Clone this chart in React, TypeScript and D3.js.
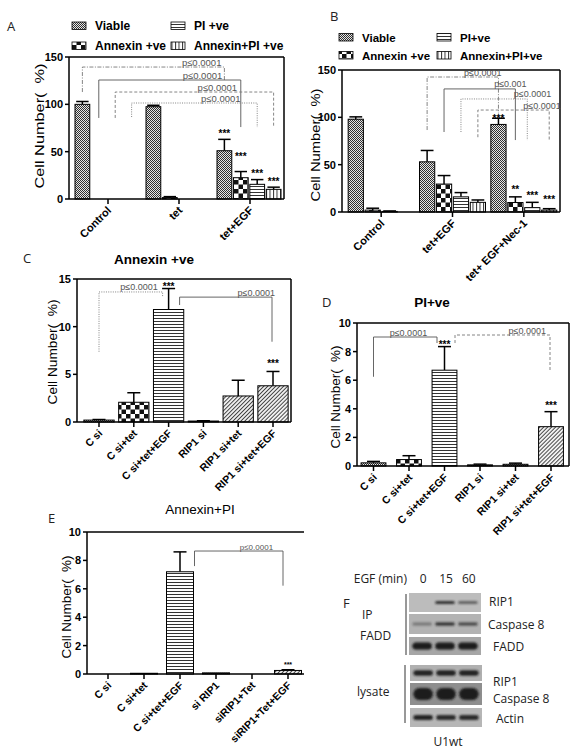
import React from 'react';
import * as d3 from 'd3';

const SANS = "'Liberation Sans', Arial, Helvetica, sans-serif";
const HUM = "'Open Sans', 'Noto Sans', sans-serif";

// ---------------- Panel A ----------------
const groupsA = ['Control', 'tet', 'tet+EGF'];
const seriesA = ['Viable', 'Annexin +ve', 'PI +ve', 'Annexin+PI +ve'];
const viableA = [100, 97.5, 51];
const viableErrA = [3, 1.5, 12];
const annexinA = [0, 1.5, 22.5];
const annexinErrA = [0, 1, 6.5];
const piA = [0, 0, 15.5];
const piErrA = [0, 0, 5];
const annexinPiA = [0, 0, 10.2];
const annexinPiErrA = [0, 0, 2.3];
const yTicksA = [0, 50, 100, 150];
const starsA = [
  { g: 2, s: 0, t: '***', v: 65.5 },
  { g: 2, s: 1, t: '***', v: 41 },
  { g: 2, s: 2, t: '***', v: 23.5 },
  { g: 2, s: 3, t: '***', v: 15 },
];
const bracketsA = [
  { l: [0, 0], r: [2, 0], top: 139.4, lb: 113, rb: 125.7, label: 'p≤0.0001', style: 'dashdot', frac: 0.84 },
  { l: [0, 1], r: [2, 1], top: 125.7, lb: 85.6, rb: 76, label: 'p≤0.0001', style: 'solid', frac: 0.73 },
  { l: [0, 2], r: [2, 3], top: 113, lb: 85.6, rb: 76, label: 'p≤0.0001', style: 'dash', frac: 0.645 },
  { l: [0, 3], r: [2, 2], top: 101.4, lb: 86.6, rb: 76, label: 'p≤0.0001', style: 'dot', frac: 0.71 },
];

// ---------------- Panel B ----------------
const groupsB = ['Control', 'tet+EGF', 'tet+ EGF+Nec-1'];
const seriesB = ['Viable', 'Annexin +ve', 'PI+ve', 'Annexin+PI+ve'];
const viableB = [98, 53, 92.5];
const viableErrB = [2.5, 12, 6.5];
const annexinB = [2, 29.5, 10];
const annexinErrB = [2, 9, 6];
const piB = [0.6, 16, 4.6];
const piErrB = [0.5, 4.5, 5.6];
const annexinPiB = [0, 10.2, 2];
const annexinPiErrB = [0, 2.5, 1.5];
const yTicksB = [0, 50, 100, 150];
const starsB = [
  { g: 2, s: 0, t: '***', v: 95 },
  { g: 2, s: 1, t: '**', v: 20.4 },
  { g: 2, s: 2, t: '***', v: 13.4 },
  { g: 2, s: 3, t: '***', v: 9.2 },
];
const bracketsB = [
  { l: [1, 0], r: [2, 0], top: 142.6, lb: 86.6, rb: 104, label: 'p≤0.0001', style: 'dashdot', frac: 0.78 },
  { l: [1, 1], r: [2, 1], top: 130, lb: 84.5, rb: 76, label: 'p≤0.001', style: 'solid', frac: 0.93 },
  { l: [1, 2], r: [2, 2], top: 119.4, lb: 84.5, rb: 76, label: 'p≤0.0001', style: 'dot', frac: 1.08, dr: -5 },
  { l: [1, 3], r: [2, 3], top: 107.7, lb: 79, rb: 76, label: 'p≤0.0001', style: 'dash', frac: 0.9 },
];

// ---------------- Panel C ----------------
const catsC = ['C si', 'C si+tet', 'C si+tet+EGF', 'RIP1 si', 'RIP1 si+tet', 'RIP1 si+tet+EGF'];
const valsC = [0.2, 2.07, 11.8, 0.1, 2.73, 3.8];
const errsC = [0.06, 1.0, 2.2, 0.03, 1.65, 1.5];
const patsC = ['pViable', 'pAnnexin', 'pHoriz', 'pViable', 'pDiag', 'pDiag'];
const yTicksC = [0, 5, 10, 15];
const starsC = [
  { c: 2, t: '***', v: 13.85 },
  { c: 5, t: '***', v: 5.8 },
];
const bracketsC = [
  { l: 0, r: 2, top: 13.64, lb: 7.37, rb: 13.1, label: 'p≤0.0001', style: 'dot', frac: 0.63, dl: 0, dr: -6 },
  { l: 2, r: 5, top: 13.1, lb: 12.27, rb: 8.42, label: 'p≤0.0001', style: 'solid', frac: 0.83, dl: 11, dr: -1 },
];

// ---------------- Panel D ----------------
const catsD = ['C si', 'C si+tet', 'C si+tet+EGF', 'RIP1 si', 'RIP1 si+tet', 'RIP1 si+tet+EGF'];
const valsD = [0.22, 0.45, 6.7, 0.08, 0.12, 2.75];
const errsD = [0.1, 0.27, 1.65, 0.05, 0.08, 1.05];
const patsD = ['pViable', 'pAnnexin', 'pHoriz', 'pViable', 'pViable', 'pDiag'];
const yTicksD = [0, 2, 4, 6, 8, 10];
const starsD = [
  { c: 2, t: '***', v: 8.25 },
  { c: 5, t: '***', v: 4.0 },
];
const bracketsD = [
  { l: 0, r: 2, top: 9.02, lb: 6.24, rb: 8.6, label: 'p≤0.0001', style: 'solid', frac: 0.55, dl: 0, dr: -7.5 },
  { l: 2, r: 5, top: 9.16, lb: 8.6, rb: 6.66, label: 'p≤0.0001', style: 'dash', frac: 0.76, dl: 10.5, dr: -1 },
];

// ---------------- Panel E ----------------
const catsE = ['C si', 'C si+tet', 'C si+tet+EGF', 'si RIP1', 'siRIP1+Tet', 'siRIP1+Tet+EGF'];
const valsE = [0, 0.05, 7.2, 0.08, 0, 0.25];
const errsE = [0, 0, 1.4, 0, 0, 0.05];
const patsE = ['pViable', 'pViable', 'pHoriz', 'pViable', 'pViable', 'pDiag'];
const yTicksE = [0, 2, 4, 6, 8, 10];
const starsE = [{ c: 5, t: '***', v: 0.5 }];
const bracketsE = [
  { l: 2, r: 5, top: 8.66, lb: 7.6, rb: 6.22, label: 'p≤0.0001', style: 'solid', frac: 0.7, dl: 14.5, dr: -5 },
];

// ---------------- Panel F (western blot) ----------------
const lanesF = ['0', '15', '60'];
const ipRip1 = [0, 0.85, 0.55];
const ipCasp8 = [0.35, 0.8, 0.65];
const ipFadd = [1, 1, 1];
const lysRip1 = [0.95, 0.95, 0.95];
const lysCasp8 = [1, 1, 1];
const lysActin = [0.95, 0.9, 0.9];

const DASH: Record<string, string | undefined> = {
  dot: '1,1.3',
  dash: '3,2',
  solid: undefined,
  dashdot: '4,1.5,1,1.5',
};

function Bracket({ x1, x2, yTop, yL, yR, label, style, frac, fs }: any) {
  const color = style === 'solid' ? '#555' : '#777';
  return (
    <g>
      <path
        d={`M${x1},${yL}V${yTop}H${x2}V${yR}`}
        fill="none"
        stroke={color}
        strokeWidth={0.9}
        strokeDasharray={DASH[style]}
      />
      <text
        x={x1 + (x2 - x1) * frac}
        y={yTop - 1.5}
        fontSize={fs}
        textAnchor="middle"
        fill="#555"
        fontFamily={SANS}
      >
        {label}
      </text>
    </g>
  );
}

function YAxis({ y, left, ticks, fs }: any) {
  return (
    <g>
      {ticks.map((t: number) => (
        <g key={t}>
          <line x1={left - 4} x2={left} y1={y(t)} y2={y(t)} stroke="#000" strokeWidth={1.5} />
          <text
            x={left - 6}
            y={y(t)}
            dy="0.36em"
            textAnchor="end"
            fontSize={fs}
            fontWeight="bold"
            fontFamily={SANS}
          >
            {t}
          </text>
        </g>
      ))}
    </g>
  );
}

function YTitle({ x, yc, len, fs }: any) {
  return (
    <text
      transform={`translate(${x},${yc}) rotate(-90)`}
      textAnchor="middle"
      fontSize={fs}
      fontFamily={SANS}
      textLength={len}
      lengthAdjust="spacingAndGlyphs"
      style={{ whiteSpace: 'pre' }}
    >
      {'Cell Number(  %)'}
    </text>
  );
}

function Frame({ left, right, top, bottom, box, rightBorder = true }: any) {
  return (
    <g fill="none" stroke="#000" strokeWidth={1.5}>
      <line x1={left} x2={left} y1={top} y2={bottom} />
      <line x1={left} x2={right} y1={bottom} y2={bottom} />
      {box && <line x1={left} x2={right} y1={top} y2={top} />}
      {box && rightBorder && <line x1={right} x2={right} y1={top} y2={bottom} />}
    </g>
  );
}

function GroupedPanel(p: any) {
  const { left, right, top, bottom, yMax, ticks, groups, data, errs, range, inner, stars, brackets, titleX, titleY, titleLen, labelFs, bfs } = p;
  const y = d3.scaleLinear().domain([0, yMax]).range([bottom, top]);
  const xg = d3.scaleBand<string>().domain(groups).range(range);
  const xs = d3.scaleBand<number>().domain(d3.range(data.length)).range(inner).paddingInner(0.1);
  const gc = (g: number) => (xg(groups[g]) as number) + xg.bandwidth() / 2;
  const sx = (g: number, s: number) => gc(g) + (xs(s) as number);
  const sc = (g: number, s: number) => sx(g, s) + xs.bandwidth() / 2;
  const pats = ['pViable', 'pAnnexin', 'pHoriz', 'pVert'];
  const bw = xs.bandwidth();
  return (
    <g>
      {data.map((vals: number[], s: number) =>
        vals.map((v: number, g: number) => {
          const e = errs[s][g];
          const cx = sc(g, s);
          return (
            <g key={`${s}-${g}`}>
              {e > 0 && (
                <g stroke="#000" strokeWidth={1.5}>
                  <line x1={cx} x2={cx} y1={y(v)} y2={y(v + e)} />
                  <line x1={cx - bw * 0.42} x2={cx + bw * 0.42} y1={y(v + e)} y2={y(v + e)} />
                </g>
              )}
              {v > 0 && (
                <rect
                  x={sx(g, s)}
                  y={y(v)}
                  width={bw}
                  height={y(0) - y(v)}
                  fill={`url(#${pats[s]})`}
                  stroke="#000"
                  strokeWidth={1}
                />
              )}
            </g>
          );
        })
      )}
      <Frame left={left} right={right} top={top} bottom={bottom} box />
      <YAxis y={y} left={left} ticks={ticks} fs={11} />
      {groups.map((g: string, i: number) => (
        <g key={g}>
          <line x1={gc(i)} x2={gc(i)} y1={bottom} y2={bottom + 5} stroke="#000" strokeWidth={1.5} />
          <text
            transform={`translate(${gc(i) + 4},${bottom + 12}) rotate(-45)`}
            textAnchor="end"
            fontSize={labelFs}
            fontWeight="bold"
            fontFamily={SANS}
          >
            {g}
          </text>
        </g>
      ))}
      {stars.map((st: any, i: number) => (
        <text
          key={i}
          x={sc(st.g, st.s)}
          y={y(st.v)}
          textAnchor="middle"
          fontSize={10}
          fontWeight="bold"
          fontFamily={SANS}
        >
          {st.t}
        </text>
      ))}
      {brackets.map((b: any, i: number) => (
        <Bracket
          key={i}
          x1={sc(b.l[0], b.l[1]) + (b.dl || 0)}
          x2={sc(b.r[0], b.r[1]) + (b.dr || 0)}
          yTop={y(b.top)}
          yL={y(b.lb)}
          yR={y(b.rb)}
          label={b.label}
          style={b.style}
          frac={b.frac}
          fs={bfs}
        />
      ))}
      <YTitle x={titleX} yc={titleY} len={titleLen} fs={13} />
    </g>
  );
}

function SinglePanel(p: any) {
  const { left, right, top, bottom, yMax, ticks, cats, vals, errs, pats, range, padding, stars, brackets, titleX, titleY, titleLen, labelFs, bfs, starFs, rightBorder } = p;
  const y = d3.scaleLinear().domain([0, yMax]).range([bottom, top]);
  const x = d3.scaleBand<string>().domain(cats).range(range).paddingInner(padding).paddingOuter(padding / 2);
  const cx = (i: number) => (x(cats[i]) as number) + x.bandwidth() / 2;
  const bw = x.bandwidth();
  return (
    <g>
      {vals.map((v: number, i: number) => {
        const e = errs[i];
        return (
          <g key={i}>
            {e > 0 && (
              <g stroke="#000" strokeWidth={1.5}>
                <line x1={cx(i)} x2={cx(i)} y1={y(v)} y2={y(v + e)} />
                <line x1={cx(i) - 6.5} x2={cx(i) + 6.5} y1={y(v + e)} y2={y(v + e)} />
              </g>
            )}
            {v > 0 && (
              <rect
                x={x(cats[i])}
                y={y(v)}
                width={bw}
                height={Math.max(y(0) - y(v), 0.8)}
                fill={`url(#${pats[i]})`}
                stroke="#000"
                strokeWidth={1}
              />
            )}
          </g>
        );
      })}
      <Frame left={left} right={right} top={top} bottom={bottom} box rightBorder={rightBorder} />
      <YAxis y={y} left={left} ticks={ticks} fs={11} />
      {cats.map((c: string, i: number) => (
        <g key={c}>
          <line x1={cx(i)} x2={cx(i)} y1={bottom} y2={bottom + 5} stroke="#000" strokeWidth={1.5} />
          <text
            transform={`translate(${cx(i) + 4},${bottom + 12}) rotate(-45)`}
            textAnchor="end"
            fontSize={labelFs}
            fontWeight="bold"
            fontFamily={SANS}
          >
            {c}
          </text>
        </g>
      ))}
      {stars.map((st: any, i: number) => (
        <text key={i} x={cx(st.c)} y={y(st.v)} textAnchor="middle" fontSize={starFs} fontWeight="bold" fontFamily={SANS}>
          {st.t}
        </text>
      ))}
      {brackets.map((b: any, i: number) => (
        <Bracket
          key={i}
          x1={cx(b.l) + b.dl}
          x2={cx(b.r) + b.dr}
          yTop={y(b.top)}
          yL={y(b.lb)}
          yR={y(b.rb)}
          label={b.label}
          style={b.style}
          frac={b.frac}
          fs={bfs}
        />
      ))}
      <YTitle x={titleX} yc={titleY} len={titleLen} fs={13} />
    </g>
  );
}

function Legend({ x1, x2, rows, names, fs }: any) {
  // names: [viable, annexin, pi, annexinPi]
  const pats = ['pViable', 'pAnnexin', 'pHoriz', 'pVert'];
  const items = [
    { n: names[0], p: pats[0], x: x1, r: 0 },
    { n: names[2], p: pats[2], x: x2, r: 0 },
    { n: names[1], p: pats[1], x: x1, r: 1 },
    { n: names[3], p: pats[3], x: x2, r: 1 },
  ];
  return (
    <g>
      {items.map((it) => (
        <g key={it.n}>
          <rect x={it.x} y={rows[it.r] - 8} width={14} height={7.5} fill={`url(#${it.p})`} stroke="#000" strokeWidth={0.8} />
          <text x={it.x + 23} y={rows[it.r]} fontSize={fs} fontWeight="bold" fontFamily={SANS}>
            {it.n}
          </text>
        </g>
      ))}
    </g>
  );
}

function Blot() {
  const xIP = d3.scaleBand<string>().domain(lanesF).range([410, 480]).padding(0.06);
  const xLy = d3.scaleBand<string>().domain(lanesF).range([411, 481]).padding(0.06);
  const strips = [
    { x: xIP, y0: 593, y1: 612, bg: '#bcbcbc', vals: ipRip1, h: 3.2, label: 'RIP1', lx: 489, ly: 606 },
    { x: xIP, y0: 614, y1: 634, bg: '#b3b3b3', vals: ipCasp8, h: 3.4, label: 'Caspase 8', lx: 488, ly: 629 },
    { x: xIP, y0: 637, y1: 655, bg: '#a6a6a6', vals: ipFadd, h: 7, label: 'FADD', lx: 493, ly: 651 },
    { x: xLy, y0: 665, y1: 681, bg: '#b0b0b0', vals: lysRip1, h: 5.5, label: 'RIP1', lx: 493, ly: 686 },
    { x: xLy, y0: 683, y1: 705, bg: '#8e8e8e', vals: lysCasp8, h: 12, label: 'Caspase 8', lx: 493, ly: 703 },
    { x: xLy, y0: 708, y1: 727, bg: '#b6b6b6', vals: lysActin, h: 5, label: 'Actin', lx: 496, ly: 723 },
  ];
  return (
    <g fontFamily={HUM} fontSize={12} fill="#222">
      <text x={343} y={608} fontSize={13}>F</text>
      <text x={407} y={583} textAnchor="end">EGF (min)</text>
      {lanesF.map((l) => (
        <text key={l} x={(xIP(l) as number) + xIP.bandwidth() / 2 + 1} y={583} textAnchor="middle">
          {l}
        </text>
      ))}
      <line x1={406} x2={406} y1={594} y2={655} stroke="#333" strokeWidth={1} />
      <line x1={405} x2={405} y1={665} y2={723} stroke="#333" strokeWidth={1} />
      <text x={362} y={619}>IP</text>
      <text x={360} y={640}>FADD</text>
      <text x={357} y={696}>lysate</text>
      {strips.map((s, i) => {
        const [r0, r1] = s.x.range();
        const ym = (s.y0 + s.y1) / 2;
        return (
          <g key={i}>
            <rect x={r0 - 1} y={s.y0} width={r1 - r0 + 2} height={s.y1 - s.y0} fill={s.bg} />
            {s.vals.map((v, j) =>
              v > 0 ? (
                <rect
                  key={j}
                  x={(s.x(lanesF[j]) as number) + 1}
                  y={ym - s.h / 2}
                  width={s.x.bandwidth() - 2}
                  height={s.h}
                  rx={s.h / 2}
                  fill="#1a1a1a"
                  opacity={v}
                  filter="url(#blur)"
                />
              ) : null
            )}
            <text x={s.lx} y={s.ly}>{s.label}</text>
          </g>
        );
      })}
      <text x={448} y={746} textAnchor="middle">U1wt</text>
    </g>
  );
}

export default function App() {
  return (
    <svg
      width={572}
      height={750}
      viewBox="0 0 572 750"
      style={{ position: 'absolute', left: 0, top: 0, background: '#fff' }}
      fontFamily={SANS}
    >
      <defs>
        <pattern id="pViable" width={2} height={2} patternUnits="userSpaceOnUse">
          <rect width={2} height={2} fill="#e6e6e6" />
          <rect width={1} height={1} fill="#303030" />
          <rect x={1} y={1} width={1} height={1} fill="#303030" />
        </pattern>
        <pattern id="pAnnexin" width={9} height={9} patternUnits="userSpaceOnUse">
          <rect width={9} height={9} fill="#fff" />
          <rect width={4.5} height={4.5} fill="#111" />
          <rect x={4.5} y={4.5} width={4.5} height={4.5} fill="#111" />
        </pattern>
        <pattern id="pHoriz" width={4} height={3} patternUnits="userSpaceOnUse">
          <rect width={4} height={3} fill="#fff" />
          <line x1={0} x2={4} y1={0.5} y2={0.5} stroke="#333" strokeWidth={1} />
        </pattern>
        <pattern id="pVert" width={3.5} height={4} patternUnits="userSpaceOnUse">
          <rect width={3.5} height={4} fill="#fff" />
          <line x1={0.5} x2={0.5} y1={0} y2={4} stroke="#333" strokeWidth={1} />
        </pattern>
        <pattern id="pDiag" width={2.8} height={2.8} patternUnits="userSpaceOnUse" patternTransform="rotate(45)">
          <rect width={2.8} height={2.8} fill="#f2f2f2" />
          <line x1={0.5} x2={0.5} y1={0} y2={2.8} stroke="#333" strokeWidth={0.9} />
        </pattern>
        <filter id="blur" x="-20%" y="-60%" width="140%" height="220%">
          <feGaussianBlur stdDeviation={0.9} />
        </filter>
      </defs>

      {/* Panel letters */}
      <g fontFamily={HUM} fontSize={13} fill="#222">
        <text x={7} y={31}>A</text>
        <text x={330} y={21}>B</text>
        <text x={23} y={263}>C</text>
        <text x={322} y={307}>D</text>
        <text x={48} y={523}>E</text>
      </g>

      {/* Panel A */}
      <Legend x1={72} x2={171} rows={[30, 50]} names={seriesA.length ? [seriesA[0], seriesA[1], seriesA[2], seriesA[3]] : []} fs={12} />
      <GroupedPanel
        left={69}
        right={284}
        top={57}
        bottom={199}
        yMax={150}
        ticks={yTicksA}
        groups={groupsA}
        data={[viableA, annexinA, piA, annexinPiA]}
        errs={[viableErrA, annexinErrA, piErrA, annexinPiErrA]}
        range={[72.5, 285.5]}
        inner={[-33, 31]}
        stars={starsA}
        brackets={bracketsA}
        titleX={44}
        titleY={126}
        titleLen={125}
        labelFs={11}
        bfs={9.5}
      />

      {/* Panel B */}
      <Legend x1={339} x2={437} rows={[41.5, 59.5]} names={seriesB} fs={11.5} />
      <GroupedPanel
        left={342}
        right={560}
        top={70}
        bottom={212}
        yMax={150}
        ticks={yTicksB}
        groups={groupsB}
        data={[viableB, annexinB, piB, annexinPiB]}
        errs={[viableErrB, annexinErrB, piErrB, annexinPiErrB]}
        range={[345.5, 559.5]}
        inner={[-33, 33]}
        stars={starsB}
        brackets={bracketsB}
        titleX={320}
        titleY={145}
        titleLen={113}
        labelFs={11}
        bfs={9}
      />

      {/* Panel C */}
      <text x={154} y={264} textAnchor="middle" fontSize={13.5} fontWeight="bold">Annexin +ve</text>
      <SinglePanel
        left={77}
        right={291}
        top={279}
        bottom={422}
        yMax={15}
        ticks={yTicksC}
        cats={catsC}
        vals={valsC}
        errs={errsC}
        pats={patsC}
        range={[81.6, 290.4]}
        padding={0.13}
        stars={starsC}
        brackets={bracketsC}
        titleX={56.5}
        titleY={352}
        titleLen={105}
        labelFs={10.5}
        bfs={9}
        starFs={10}
      />

      {/* Panel D */}
      <text x={432} y={307} textAnchor="middle" fontSize={13.5} fontWeight="bold">PI+ve</text>
      <SinglePanel
        left={357}
        right={569}
        top={323}
        bottom={466}
        yMax={10}
        ticks={yTicksD}
        cats={catsD}
        vals={valsD}
        errs={errsD}
        pats={patsD}
        range={[355.75, 568.75]}
        padding={0.3}
        stars={starsD}
        brackets={bracketsD}
        titleX={340}
        titleY={397}
        titleLen={103}
        labelFs={10.5}
        bfs={9}
        starFs={10}
      />

      {/* Panel E */}
      <text x={200} y={514} textAnchor="middle" fontSize={13.5}>Annexin+PI</text>
      <SinglePanel
        left={87}
        right={304}
        top={532}
        bottom={674}
        yMax={10}
        ticks={yTicksE}
        cats={catsE}
        vals={valsE}
        errs={errsE}
        pats={patsE}
        range={[90, 306]}
        padding={0.25}
        stars={starsE}
        brackets={bracketsE}
        titleX={71}
        titleY={607}
        titleLen={103}
        labelFs={10.5}
        bfs={8}
        starFs={7}
        rightBorder={false}
      />

      {/* Panel F */}
      <Blot />
    </svg>
  );
}
